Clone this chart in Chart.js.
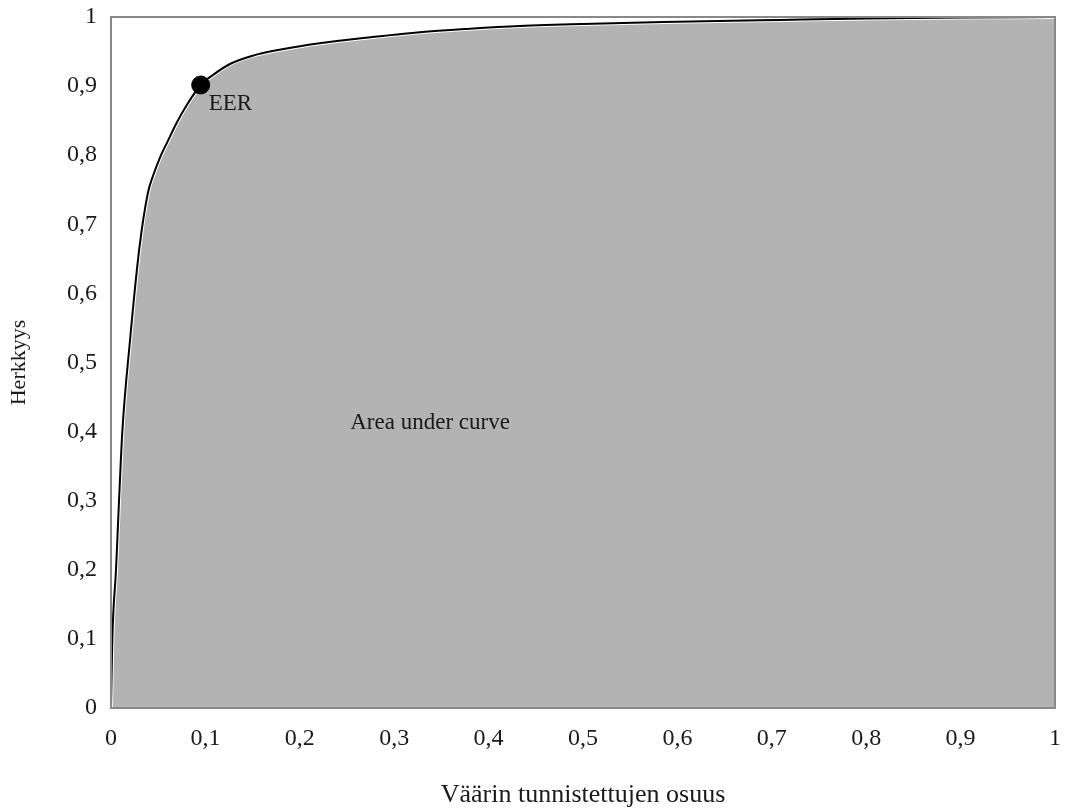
<!DOCTYPE html>
<html>
<head>
<meta charset="utf-8">
<script src="https://cdn.jsdelivr.net/npm/chart.js@4"></script>
<style>
  html, body { margin: 0; padding: 0; background: #fff; }
  #wrap { width: 1066px; height: 809px; }
</style>
</head>
<body>
<div id="wrap"><canvas id="rocChart"></canvas></div>
<script>
// ROC curve
const fpr = [0, 0.0014, 0.0053, 0.0085, 0.012, 0.02, 0.03, 0.039, 0.045, 0.052, 0.06, 0.07, 0.08, 0.095, 0.11, 0.126, 0.15, 0.18, 0.221, 0.27, 0.327, 0.38, 0.433, 0.5, 0.6, 0.709, 0.8, 0.9, 1];
const tpr = [0, 0.1, 0.2, 0.3, 0.4, 0.53, 0.665, 0.745, 0.772, 0.797, 0.82, 0.848, 0.872, 0.9016, 0.918, 0.932, 0.944, 0.953, 0.962, 0.970, 0.978, 0.983, 0.987, 0.990, 0.993, 0.9957, 0.9978, 0.9992, 1];
const eerPoint = { x: 0.095, y: 0.9016 };
const aucLabel = { x: 0.338, y: 0.412, text: 'Area under curve' };
const tickValues = [0, 0.1, 0.2, 0.3, 0.4, 0.5, 0.6, 0.7, 0.8, 0.9, 1];

const FONT = "'Liberation Serif', 'DejaVu Serif', serif";
const rocPoints = fpr.map((x, i) => ({ x, y: tpr[i] }));
const fmt = v => String(Math.round(v * 10) / 10).replace('.', ',');

const framePlugin = {
  id: 'frame',
  afterDatasetsDraw(chart) {
    const { ctx, chartArea: a, scales } = chart;
    ctx.save();
    ctx.strokeStyle = '#888888';
    ctx.lineWidth = 2;
    ctx.strokeRect(a.left, a.top, a.right - a.left, a.bottom - a.top);
    // annotations
    ctx.fillStyle = '#1a1a1a';
    ctx.font = '23px ' + FONT;
    ctx.textBaseline = 'middle';
    ctx.textAlign = 'left';
    ctx.fillText('EER', scales.x.getPixelForValue(eerPoint.x) + 8, scales.y.getPixelForValue(eerPoint.y) + 19);
    ctx.textAlign = 'center';
    ctx.fillText(aucLabel.text, scales.x.getPixelForValue(aucLabel.x), scales.y.getPixelForValue(aucLabel.y));
    ctx.restore();
  }
};

new Chart(document.getElementById('rocChart'), {
  type: 'scatter',
  data: {
    datasets: [{
      label: 'EER',
      data: [eerPoint],
      backgroundColor: '#000',
      borderColor: '#000',
      pointRadius: 9,
      order: 0
    }, {
      label: 'ROC',
      data: rocPoints,
      showLine: true,
      borderColor: '#000',
      borderWidth: 2,
      pointRadius: 0,
      cubicInterpolationMode: 'monotone',
      fill: false,
      order: 1
    }, {
      label: 'AUC',
      data: rocPoints,
      showLine: true,
      borderColor: '#ffffff',
      borderWidth: 4,
      backgroundColor: '#b3b3b3',
      pointRadius: 0,
      cubicInterpolationMode: 'monotone',
      fill: 'origin',
      order: 2
    }]
  },
  options: {
    responsive: true,
    maintainAspectRatio: false,
    animation: false,
    layout: { padding: { top: 17, right: 11, left: 0, bottom: 0 } },
    plugins: {
      legend: { display: false },
      tooltip: { enabled: false }
    },
    scales: {
      x: {
        type: 'linear', min: 0, max: 1,
        afterBuildTicks: s => { s.ticks = tickValues.map(v => ({ value: v })); },
        afterFit: s => { s.height = 101; s.paddingLeft = 0; s.paddingRight = 0; },
        grid: { display: false, drawTicks: false },
        border: { display: false },
        ticks: { color: '#1a1a1a', padding: 16, maxRotation: 0, font: { family: FONT, size: 24 }, callback: v => fmt(v) },
        title: { display: true, text: 'Väärin tunnistettujen osuus', color: '#1a1a1a', font: { family: FONT, size: 26 }, padding: { top: 0, bottom: -2 } }
      },
      y: {
        type: 'linear', min: 0, max: 1,
        afterBuildTicks: s => { s.ticks = tickValues.map(v => ({ value: v })); },
        afterFit: s => { s.width = 111; s.paddingTop = 0; s.paddingBottom = 0; },
        grid: { display: false, drawTicks: false },
        border: { display: false },
        ticks: { color: '#1a1a1a', padding: 14, font: { family: FONT, size: 24 }, callback: v => fmt(v) },
        title: { display: true, text: 'Herkkyys', color: '#1a1a1a', font: { family: FONT, size: 22 }, padding: { top: 6, bottom: 0 } }
      }
    }
  },
  plugins: [framePlugin]
});
</script>
</body>
</html>
